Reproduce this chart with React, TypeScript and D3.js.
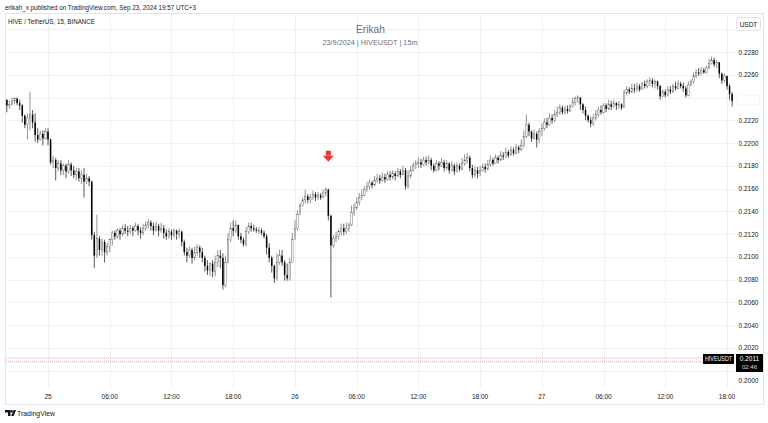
import React from 'react';
import * as d3 from 'd3';

const W = 768;
const H = 423;

// Series: 15-minute candles, first bar at 2024-09-24 20:00 (UTC used as wall clock)
const startTime = Date.UTC(2024, 8, 24, 20, 0);
const barMinutes = 15;
const firstOpen = 0.2238;

const closes = [
  0.2233, 0.2234, 0.2237, 0.2239, 0.2235, 0.2233, 0.2224, 0.2216, 0.2222, 0.2225,
  0.2218, 0.2207, 0.2203, 0.2208, 0.2204, 0.2210, 0.2203, 0.2183, 0.2185, 0.2178,
  0.2182, 0.2176, 0.2180, 0.2175, 0.2181, 0.2176, 0.2172, 0.2175, 0.2169, 0.2172,
  0.2166, 0.2169, 0.2166, 0.2119, 0.2101, 0.2116, 0.2106, 0.2113, 0.2104, 0.2109,
  0.2115, 0.2121, 0.2118, 0.2123, 0.2120, 0.2125, 0.2123, 0.2122, 0.2125, 0.2123,
  0.2127, 0.2123, 0.2121, 0.2125, 0.2128, 0.2130, 0.2127, 0.2123, 0.2127, 0.2123,
  0.2125, 0.2121, 0.2118, 0.2122, 0.2119, 0.2123, 0.2120, 0.2122, 0.2113, 0.2104,
  0.2101, 0.2106, 0.2099, 0.2104, 0.2108, 0.2104, 0.2099, 0.2092, 0.2088, 0.2094,
  0.2087, 0.2095, 0.2101, 0.2099, 0.2075, 0.2095, 0.2115, 0.2125, 0.2123, 0.2128,
  0.2118, 0.2115, 0.2111, 0.2122, 0.2127, 0.2125, 0.2124, 0.2123, 0.2123, 0.2121,
  0.2118, 0.2108, 0.2099, 0.2092, 0.2081, 0.2095, 0.2101, 0.2095, 0.2084, 0.2081,
  0.2095, 0.2115, 0.2125, 0.2137, 0.2145, 0.2150, 0.2153, 0.2150, 0.2152, 0.2155,
  0.2152, 0.2154, 0.2152, 0.2156, 0.2159, 0.2136, 0.2110, 0.2116, 0.2118, 0.2122,
  0.2125, 0.2122, 0.2125, 0.2128, 0.2139, 0.2143, 0.2148, 0.2152, 0.2154, 0.2159,
  0.2162, 0.2165, 0.2163, 0.2167, 0.2169, 0.2167, 0.2170, 0.2168, 0.2172, 0.2170,
  0.2173, 0.2171, 0.2175, 0.2172, 0.2176, 0.2162, 0.2171, 0.2176, 0.2180, 0.2182,
  0.2183, 0.2181, 0.2185, 0.2183, 0.2185, 0.2180, 0.2176, 0.2182, 0.2180, 0.2183,
  0.2178, 0.2182, 0.2176, 0.2180, 0.2175, 0.2180, 0.2177, 0.2182, 0.2185, 0.2187,
  0.2178, 0.2172, 0.2176, 0.2173, 0.2176, 0.2179, 0.2177, 0.2181, 0.2185, 0.2182,
  0.2187, 0.2185, 0.2189, 0.2188, 0.2192, 0.2189, 0.2194, 0.2191, 0.2196, 0.2194,
  0.2198, 0.2206, 0.2216, 0.2210, 0.2204, 0.2208, 0.2203, 0.2210, 0.2213, 0.2218,
  0.2216, 0.2222, 0.2220, 0.2225, 0.2227, 0.2231, 0.2227, 0.2230, 0.2228, 0.2232,
  0.2236, 0.2239, 0.2240, 0.2234, 0.2229, 0.2224, 0.2220, 0.2217, 0.2222, 0.2225,
  0.2229, 0.2227, 0.2233, 0.2230, 0.2234, 0.2232, 0.2235, 0.2233, 0.2234, 0.2231,
  0.2244, 0.2247, 0.2245, 0.2248, 0.2247, 0.2250, 0.2247, 0.2252, 0.2250, 0.2254,
  0.2255, 0.2252, 0.2254, 0.2250, 0.2241, 0.2245, 0.2242, 0.2247, 0.2245, 0.2250,
  0.2248, 0.2252, 0.2250, 0.2248, 0.2242, 0.2251, 0.2254, 0.2259, 0.2262, 0.2261,
  0.2264, 0.2262, 0.2266, 0.2270, 0.2273, 0.2269, 0.2271, 0.2261, 0.2255, 0.2259,
  0.2250, 0.2243, 0.2237,
];

const highs = [
  0.2238, 0.2237, 0.2240, 0.2240, 0.2240, 0.2238, 0.2234, 0.2225, 0.2226, 0.2245,
  0.2229, 0.2226, 0.2213, 0.2211, 0.2211, 0.2213, 0.2213, 0.2204, 0.2189, 0.2187,
  0.2185, 0.2185, 0.2182, 0.2182, 0.2185, 0.2183, 0.2180, 0.2178, 0.2178, 0.2176,
  0.2178, 0.2173, 0.2171, 0.2167, 0.2122, 0.2137, 0.2118, 0.2116, 0.2115, 0.2112,
  0.2116, 0.2123, 0.2123, 0.2125, 0.2125, 0.2128, 0.2129, 0.2127, 0.2128, 0.2127,
  0.2130, 0.2129, 0.2126, 0.2129, 0.2131, 0.2133, 0.2132, 0.2130, 0.2131, 0.2129,
  0.2130, 0.2128, 0.2124, 0.2125, 0.2124, 0.2125, 0.2124, 0.2125, 0.2123, 0.2115,
  0.2108, 0.2109, 0.2108, 0.2109, 0.2111, 0.2110, 0.2108, 0.2101, 0.2097, 0.2095,
  0.2097, 0.2101, 0.2106, 0.2106, 0.2103, 0.2101, 0.2121, 0.2130, 0.2132, 0.2132,
  0.2128, 0.2121, 0.2117, 0.2126, 0.2130, 0.2130, 0.2128, 0.2126, 0.2126, 0.2125,
  0.2123, 0.2120, 0.2112, 0.2101, 0.2093, 0.2103, 0.2106, 0.2106, 0.2097, 0.2094,
  0.2099, 0.2121, 0.2132, 0.2141, 0.2147, 0.2152, 0.2159, 0.2155, 0.2155, 0.2158,
  0.2157, 0.2157, 0.2156, 0.2159, 0.2161, 0.2160, 0.2137, 0.2119, 0.2122, 0.2124,
  0.2129, 0.2129, 0.2130, 0.2130, 0.2145, 0.2147, 0.2152, 0.2156, 0.2159, 0.2162,
  0.2166, 0.2168, 0.2167, 0.2171, 0.2173, 0.2172, 0.2174, 0.2173, 0.2175, 0.2175,
  0.2176, 0.2175, 0.2178, 0.2177, 0.2180, 0.2178, 0.2176, 0.2180, 0.2183, 0.2185,
  0.2187, 0.2186, 0.2188, 0.2188, 0.2189, 0.2187, 0.2182, 0.2185, 0.2184, 0.2187,
  0.2185, 0.2185, 0.2183, 0.2184, 0.2182, 0.2183, 0.2182, 0.2187, 0.2190, 0.2191,
  0.2189, 0.2181, 0.2180, 0.2179, 0.2180, 0.2182, 0.2182, 0.2185, 0.2189, 0.2187,
  0.2190, 0.2189, 0.2193, 0.2192, 0.2196, 0.2194, 0.2197, 0.2196, 0.2199, 0.2198,
  0.2203, 0.2211, 0.2225, 0.2218, 0.2211, 0.2212, 0.2210, 0.2213, 0.2217, 0.2222,
  0.2222, 0.2226, 0.2225, 0.2229, 0.2232, 0.2234, 0.2233, 0.2233, 0.2233, 0.2234,
  0.2240, 0.2241, 0.2242, 0.2240, 0.2235, 0.2232, 0.2225, 0.2223, 0.2225, 0.2229,
  0.2232, 0.2233, 0.2235, 0.2235, 0.2238, 0.2237, 0.2238, 0.2236, 0.2237, 0.2235,
  0.2247, 0.2250, 0.2249, 0.2252, 0.2252, 0.2253, 0.2252, 0.2254, 0.2255, 0.2256,
  0.2258, 0.2257, 0.2256, 0.2255, 0.2251, 0.2247, 0.2247, 0.2250, 0.2250, 0.2252,
  0.2254, 0.2255, 0.2254, 0.2253, 0.2250, 0.2254, 0.2256, 0.2262, 0.2265, 0.2266,
  0.2267, 0.2266, 0.2268, 0.2274, 0.2276, 0.2275, 0.2273, 0.2271, 0.2262, 0.2261,
  0.2259, 0.2252, 0.2245,
];

const lows = [
  0.2227, 0.2230, 0.2233, 0.2234, 0.2233, 0.2229, 0.2218, 0.2213, 0.2203, 0.2211,
  0.2213, 0.2201, 0.2200, 0.2202, 0.2198, 0.2203, 0.2198, 0.2181, 0.2178, 0.2167,
  0.2175, 0.2172, 0.2172, 0.2169, 0.2173, 0.2171, 0.2169, 0.2167, 0.2166, 0.2164,
  0.2152, 0.2164, 0.2162, 0.2115, 0.2090, 0.2099, 0.2101, 0.2101, 0.2095, 0.2101,
  0.2104, 0.2110, 0.2115, 0.2116, 0.2115, 0.2118, 0.2120, 0.2118, 0.2120, 0.2118,
  0.2122, 0.2119, 0.2116, 0.2119, 0.2123, 0.2125, 0.2123, 0.2119, 0.2122, 0.2118,
  0.2121, 0.2116, 0.2115, 0.2116, 0.2115, 0.2117, 0.2115, 0.2116, 0.2109, 0.2101,
  0.2095, 0.2099, 0.2094, 0.2097, 0.2101, 0.2099, 0.2095, 0.2087, 0.2084, 0.2083,
  0.2082, 0.2083, 0.2091, 0.2090, 0.2071, 0.2073, 0.2094, 0.2113, 0.2118, 0.2121,
  0.2115, 0.2112, 0.2109, 0.2109, 0.2120, 0.2122, 0.2122, 0.2121, 0.2120, 0.2119,
  0.2116, 0.2102, 0.2095, 0.2086, 0.2077, 0.2079, 0.2093, 0.2092, 0.2079, 0.2079,
  0.2079, 0.2095, 0.2115, 0.2123, 0.2137, 0.2144, 0.2147, 0.2147, 0.2147, 0.2150,
  0.2149, 0.2150, 0.2150, 0.2152, 0.2153, 0.2132, 0.2064, 0.2108, 0.2113, 0.2115,
  0.2119, 0.2119, 0.2120, 0.2122, 0.2127, 0.2136, 0.2141, 0.2145, 0.2150, 0.2153,
  0.2157, 0.2159, 0.2160, 0.2162, 0.2165, 0.2164, 0.2166, 0.2165, 0.2167, 0.2167,
  0.2168, 0.2167, 0.2170, 0.2169, 0.2172, 0.2159, 0.2160, 0.2169, 0.2175, 0.2177,
  0.2178, 0.2178, 0.2180, 0.2180, 0.2181, 0.2176, 0.2174, 0.2175, 0.2176, 0.2179,
  0.2175, 0.2176, 0.2173, 0.2175, 0.2172, 0.2174, 0.2175, 0.2176, 0.2180, 0.2182,
  0.2175, 0.2169, 0.2170, 0.2169, 0.2171, 0.2175, 0.2174, 0.2176, 0.2179, 0.2180,
  0.2182, 0.2182, 0.2184, 0.2185, 0.2187, 0.2187, 0.2189, 0.2189, 0.2190, 0.2191,
  0.2193, 0.2196, 0.2204, 0.2206, 0.2201, 0.2203, 0.2196, 0.2200, 0.2206, 0.2211,
  0.2213, 0.2215, 0.2217, 0.2218, 0.2223, 0.2225, 0.2225, 0.2225, 0.2226, 0.2227,
  0.2231, 0.2233, 0.2235, 0.2229, 0.2226, 0.2220, 0.2218, 0.2214, 0.2215, 0.2220,
  0.2223, 0.2225, 0.2226, 0.2227, 0.2229, 0.2229, 0.2231, 0.2229, 0.2230, 0.2229,
  0.2231, 0.2242, 0.2243, 0.2244, 0.2244, 0.2245, 0.2245, 0.2247, 0.2248, 0.2248,
  0.2250, 0.2249, 0.2248, 0.2247, 0.2238, 0.2240, 0.2240, 0.2241, 0.2243, 0.2244,
  0.2246, 0.2247, 0.2248, 0.2245, 0.2240, 0.2241, 0.2250, 0.2252, 0.2257, 0.2259,
  0.2260, 0.2261, 0.2261, 0.2265, 0.2269, 0.2267, 0.2266, 0.2257, 0.2252, 0.2253,
  0.2247, 0.2238, 0.2232,
];

const priceTicks = [
  0.2000, 0.2020, 0.2040, 0.2060, 0.2080, 0.2100, 0.2120, 0.2140,
  0.2160, 0.2180, 0.2200, 0.2220, 0.2240, 0.2260, 0.2280, 0.2300,
];
const labelledPriceTicks = [
  0.2000, 0.2020, 0.2040, 0.2060, 0.2080, 0.2100, 0.2120, 0.2140,
  0.2160, 0.2180, 0.2200, 0.2220, 0.2260, 0.2280,
];
const lastPrice = 0.2011;
const prevClosePrice = 0.2009;
const countdown = '02:46';
const symbol = 'HIVEUSDT';
const currency = 'USDT';
const signalTime = Date.UTC(2024, 8, 26, 3, 15);
const signalPrice = 0.2184;

const publishedText = 'erikah_x published on TradingView.com, Sep 23, 2024 19:57 UTC+3';
const legendText = 'HIVE / TetherUS, 15, BINANCE';
const titleText = 'Erikah';
const subtitleText = '23/9/2024 | HIVEUSDT | 15m';

const FONT = '"Liberation Sans", Arial, sans-serif';
const TXT = '#131722';
const GRID = '#eff0f2';
const FRAME = '#e0e3eb';

export default function App() {
  const paneLeft = 5;
  const paneRight = 735;
  const paneTop = 13;
  const paneBottom = 388;

  const x = d3
    .scaleUtc()
    .domain([new Date(Date.UTC(2024, 8, 25, 0)), new Date(Date.UTC(2024, 8, 27, 18))])
    .range([48, 727]);
  const y = d3.scaleLinear().domain([0.2, 0.228]).range([370.5, 52]);

  const candles = closes.map((c, i) => {
    const o = i === 0 ? firstOpen : closes[i - 1];
    return {
      t: new Date(startTime + i * barMinutes * 60000),
      o,
      c,
      h: Math.max(highs[i], o, c),
      l: Math.min(lows[i], o, c),
    };
  });

  const timeTicks = d3.utcHour
    .every(6)!
    .range(new Date(Date.UTC(2024, 8, 24, 20)), new Date(Date.UTC(2024, 8, 27, 19)));
  const fmtTime = (d: Date) =>
    d.getUTCHours() === 0 ? d3.utcFormat('%-d')(d) : d3.utcFormat('%H:%M')(d);
  const fmtPrice = d3.format('.4f');

  const bodyW = 1.5;
  const lastY = y(lastPrice);
  const prevY = y(prevClosePrice);
  const lastClose = closes[closes.length - 1];

  const ax = x(new Date(signalTime));
  const ay = y(signalPrice);

  return (
    <svg
      width={W}
      height={H}
      style={{ position: 'absolute', left: 0, top: 0, background: '#fff' }}
      fontFamily={FONT}
    >
      <rect x={0} y={0} width={W} height={H} fill="#fff" />
      <text x={5} y={10} fontSize={7} fill={TXT} textLength={191} lengthAdjust="spacingAndGlyphs">
        {publishedText}
      </text>

      {/* frame */}
      <rect x={5.5} y={paneTop + 0.5} width={758} height={391} fill="#fff" stroke={FRAME} />

      {/* grid */}
      {priceTicks.map((p) => (
        <line key={'h' + p} x1={paneLeft + 1} x2={paneRight} y1={Math.round(y(p)) + 0.5} y2={Math.round(y(p)) + 0.5} stroke={GRID} />
      ))}
      {timeTicks.map((t) => (
        <line key={'v' + t.getTime()} x1={Math.round(x(t)) + 0.5} x2={Math.round(x(t)) + 0.5} y1={paneTop + 1} y2={paneBottom} stroke={GRID} />
      ))}

      {/* price lines */}
      <line x1={paneLeft + 1} x2={paneRight} y1={lastY} y2={lastY} stroke="#f4a6a6" strokeWidth={1} strokeDasharray="1 1" />
      <line x1={paneLeft + 1} x2={paneRight} y1={prevY + 1.5} y2={prevY + 1.5} stroke="#9db4e8" strokeWidth={1} strokeDasharray="1 1" />

      {/* candles */}
      <g>
        {candles.map((d, i) => {
          const cx = x(d.t);
          const up = d.c >= d.o;
          const top = y(Math.max(d.o, d.c));
          const bot = y(Math.min(d.o, d.c));
          const bh = Math.max(1, bot - top);
          return (
            <g key={i}>
              <line x1={cx} x2={cx} y1={y(d.h)} y2={y(d.l)} stroke={up ? '#666' : '#111'} strokeWidth={0.7} />
              <rect
                x={cx - bodyW / 2}
                y={top}
                width={bodyW}
                height={bh}
                fill={up ? '#fff' : '#000'}
                stroke={up ? '#555' : 'none'}
                strokeWidth={0.4}
              />
            </g>
          );
        })}
      </g>

      {/* signal arrow */}
      <g fill="#e53935">
        <rect x={ax - 2.5} y={ay - 10.5} width={5} height={5} />
        <path d={`M${ax - 5.5},${ay - 5.5} L${ax + 5.5},${ay - 5.5} L${ax},${ay + 0.5} Z`} />
      </g>

      {/* legend + titles */}
      <text x={8} y={24} fontSize={7} fill={TXT} textLength={87} lengthAdjust="spacingAndGlyphs">
        {legendText}
      </text>
      <text x={370.5} y={32.5} fontSize={11} fill="#6a6d78" textAnchor="middle" textLength={29} lengthAdjust="spacingAndGlyphs">
        {titleText}
      </text>
      <text x={370} y={45} fontSize={7} fill="#6a6d78" textAnchor="middle" textLength={95} lengthAdjust="spacingAndGlyphs">
        {subtitleText}
      </text>

      {/* price axis */}
      <rect x={736.5} y={17.5} width={24} height={13} rx={2.5} fill="#fff" stroke={FRAME} />
      <text x={748.5} y={26.5} fontSize={6.5} fill={TXT} textAnchor="middle">
        {currency}
      </text>
      {labelledPriceTicks.map((p) => {
        const py = y(p);
        const shifted = Math.abs(py - (lastY + 6.5)) < 12 ? lastY + 23 : py;
        return (
          <text key={'pl' + p} x={748.5} y={shifted + 2.5} fontSize={6.5} fill={TXT} textAnchor="middle">
            {fmtPrice(p)}
          </text>
        );
      })}
      <rect x={737.5} y={y(lastClose) - 5} width={22} height={9} fill="#fff" stroke="#f2f2f2" rx={1} />

      {/* last price labels */}
      <rect x={703} y={lastY - 4} width={31} height={10} fill="#000" />
      <text x={718.5} y={lastY + 3.3} fontSize={6.3} fill="#fff" textAnchor="middle" textLength={27} lengthAdjust="spacingAndGlyphs">
        {symbol}
      </text>
      <rect x={736} y={lastY - 4} width={27} height={18} fill="#000" />
      <text x={749.5} y={lastY + 3.5} fontSize={6.5} fill="#fff" textAnchor="middle">
        {fmtPrice(lastPrice)}
      </text>
      <text x={749.5} y={lastY + 11.5} fontSize={6} fill="#ddd" textAnchor="middle">
        {countdown}
      </text>

      {/* time axis */}
      {timeTicks.map((t) => (
        <text key={'tl' + t.getTime()} x={x(t)} y={398.5} fontSize={6.5} fill={TXT} textAnchor="middle">
          {fmtTime(t)}
        </text>
      ))}

      {/* TradingView logo */}
      <g fill={TXT}>
        <path d="M5,410 h5.5 v6 h-2.5 v-3.5 h-3 z" />
        <circle cx={11.6} cy={411.2} r={1.2} />
        <path d="M11.2,416 L13.6,410 L16,410 L13.6,416 Z" />
      </g>
      <text x={17} y={416} fontSize={7.5} fill={TXT} textLength={38} lengthAdjust="spacingAndGlyphs">
        TradingView
      </text>
    </svg>
  );
}
